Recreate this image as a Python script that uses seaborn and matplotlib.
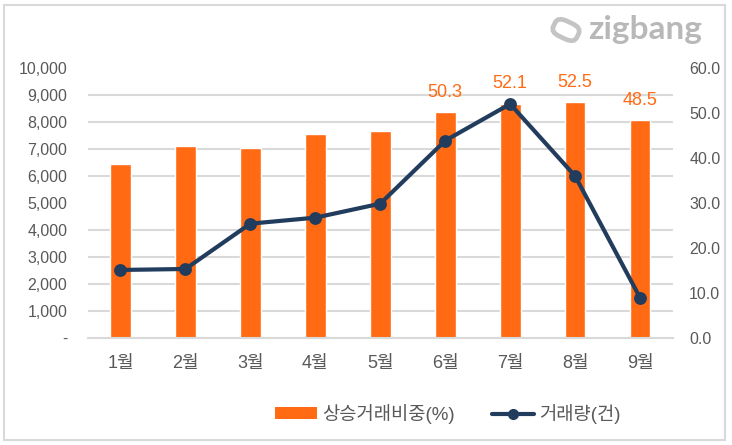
import numpy as np
import pandas as pd
import matplotlib
matplotlib.use("Agg")
import matplotlib.pyplot as plt
import seaborn as sns
from matplotlib.patches import Rectangle, FancyBboxPatch, Patch
from matplotlib.lines import Line2D
import matplotlib.transforms as mtransforms

# ---- data ----
months = ["1월", "2월", "3월", "4월", "5월", "6월", "7월", "8월", "9월"]
rise_share = [38.7, 42.7, 42.2, 45.3, 46.0, 50.3, 52.1, 52.5, 48.5]   # 상승거래비중(%)
volume = [2520, 2556, 4235, 4457, 4975, 7309, 8667, 6000, 1494]        # 거래량(건)
show_label = [False, False, False, False, False, True, True, True, True]
left_ticks = [0, 1000, 2000, 3000, 4000, 5000, 6000, 7000, 8000, 9000, 10000]
right_ticks = [0, 10, 20, 30, 40, 50, 60]

ORANGE = "#FF6A13"
NAVY = "#223C5E"
GRID = "#D9D9D9"
TXT = "#595959"

sns.set_theme(style="white")
plt.rcParams["font.family"] = ["Liberation Sans", "Noto Sans CJK KR", "DejaVu Sans"]

df = pd.DataFrame({"month": months, "share": rise_share, "volume": volume})

fig = plt.figure(figsize=(7.32, 4.45), dpi=100)
ax = fig.add_axes([88 / 732, 1 - 338 / 445, (672.5 - 88) / 732, 270 / 445])
ax2 = ax.twinx()

# bars (share, right scale)
sns.barplot(data=df, x="month", y="share", ax=ax, color=ORANGE, width=0.32,
            saturation=1, zorder=2)
ax.set_ylim(0, 60)
ax.set_xlim(-0.5, len(months) - 0.5)
ax.yaxis.tick_right()
ax.yaxis.set_label_position("right")
ax.set_yticks(right_ticks)
ax.set_yticklabels([f"{v:.1f}" for v in right_ticks])
ax.set_yticks(np.linspace(0, 60, len(left_ticks)), minor=True)
ax.grid(which="minor", axis="y", color=GRID, linewidth=1.5, zorder=0)
ax.grid(which="major", visible=False)
ax.set_axisbelow(True)
ax.tick_params(axis="y", which="both", length=0, pad=12, labelsize=11.5, labelcolor=TXT)
ax.tick_params(axis="x", length=0, pad=12, labelsize=13, labelcolor=TXT)
ax.set_xlabel("")
ax.set_ylabel("")
for s in ["top", "left", "right"]:
    ax.spines[s].set_visible(False)
ax.spines["bottom"].set_color(GRID)
ax.spines["bottom"].set_linewidth(1.5)

# data labels
for i, (v, show) in enumerate(zip(rise_share, show_label)):
    if show:
        ax.annotate(f"{v:.1f}", xy=(i, v), xytext=(0, 8), textcoords="offset points",
                    ha="center", va="bottom", fontsize=13, color=ORANGE)

# line (volume, left scale)
sns.pointplot(data=df, x="month", y="volume", ax=ax2, color=NAVY,
              markers="o", markersize=7, linewidth=3)
ax2.set_ylim(0, 10000)
ax2.set_xlim(-0.5, len(months) - 0.5)
ax2.yaxis.tick_left()
ax2.yaxis.set_label_position("left")
ax2.set_yticks(left_ticks)
ax2.set_yticklabels(["-" if v == 0 else f"{v:,}" for v in left_ticks])
ax2.tick_params(axis="y", length=0, pad=15, labelsize=11.5, labelcolor=TXT)
ax2.set_ylabel("")
ax2.set_xlabel("")
ax2.grid(False)
for s in ax2.spines.values():
    s.set_visible(False)

# legend
handles = [Patch(facecolor=ORANGE, edgecolor="none"),
           Line2D([0], [0], color=NAVY, linewidth=3, marker="o", markersize=7)]
fig.legend(handles, ["상승거래비중(%)", "거래량(건)"], loc="center",
           bbox_to_anchor=(0.612, 0.07), ncol=2, frameon=False, fontsize=13.5,
           handlelength=2.2, handleheight=0.6, handletextpad=0.3, columnspacing=2.0,
           labelcolor=TXT)

# logo
fig.text(588 / 732, 1 - 30 / 445, "zigbang", fontsize=24, fontweight="bold",
         color="#B8B8B8", family="Lato", ha="left", va="center")
icon = FancyBboxPatch((0, 0), 1, 1, boxstyle="round,pad=0,rounding_size=0.38",
                      transform=mtransforms.Affine2D().translate(-0.5, -0.5)
                      .scale(26, 17).rotate_deg(-25).translate(566, 445 - 30),
                      fill=False, edgecolor="#C4C4C4", linewidth=3.4)
fig.patches.append(icon)

# border
fig.patches.append(Rectangle((4 / 732, 5 / 445), (724.5 - 4) / 732, (440 - 5) / 445,
                             transform=fig.transFigure, fill=False,
                             edgecolor=GRID, linewidth=1.5))

fig.savefig("out.png", dpi=100)
